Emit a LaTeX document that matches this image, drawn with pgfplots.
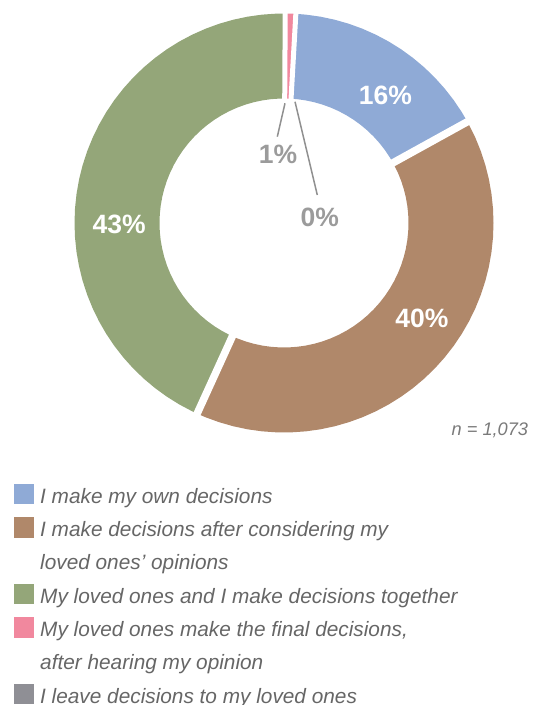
\documentclass[border=0pt]{standalone}
\usepackage{pgfplots}
\pgfplotsset{compat=1.18}
\usepackage{fontspec}
\setmainfont{Liberation Sans}
\definecolor{cblue}{HTML}{8FAAD6}
\definecolor{cbrown}{HTML}{B0886A}
\definecolor{cgreen}{HTML}{94A679}
\definecolor{cpink}{HTML}{F1889E}
\definecolor{cgray}{HTML}{8F8F95}
\definecolor{labgray}{HTML}{9B9B9B}
\definecolor{leader}{HTML}{909090}
\definecolor{legtext}{HTML}{666666}
\definecolor{ntext}{HTML}{7A7A7A}
% shares (%): own 16.07, after considering 39.83, together 43.29, final 0.81, leave 0.00
\begin{document}
\begin{tikzpicture}
\begin{axis}[
  at={(0,0)}, anchor=south west,
  scale only axis, width=547bp, height=705bp,
  xmin=-284, xmax=263, ymin=-482, ymax=223,
  hide axis, clip=false,
  legend cell align=left,
  legend style={at={(axis cs:-269.7,-260.8)}, anchor=north west,
    draw=none, fill=none, inner sep=0pt, outer sep=0pt,
    row sep=13.33bp, column sep=0bp,
    font=\fontsize{20.8bp}{24bp}\selectfont\itshape, text=legtext,
    nodes={inner sep=0pt, text height=19.5bp, text depth=0.5bp},
    /tikz/every odd column/.append style={column sep=6.5bp}},
]
% blue slice: 16.07 %
\addplot[forget plot, data cs=polar, fill=cblue, draw=none] coordinates {
(86.76,209.5) (84,209.5) (80,209.5) (76,209.5) (72,209.5) (68,209.5) (64,209.5) (60,209.5) (56,209.5) (52,209.5) (48,209.5) (44,209.5) (40,209.5) (36,209.5) (32,209.5) (28.9,209.5)
(28.9,124.5) (32,124.5) (36,124.5) (40,124.5) (44,124.5) (48,124.5) (52,124.5) (56,124.5) (60,124.5) (64,124.5) (68,124.5) (72,124.5) (76,124.5) (80,124.5) (84,124.5) (86.76,124.5)
} -- cycle;
% brown slice: 39.83 %
\addplot[forget plot, data cs=polar, fill=cbrown, draw=none] coordinates {
(28.9,209.5) (24,209.5) (20,209.5) (16,209.5) (12,209.5) (8,209.5) (4,209.5) (0,209.5) (-4,209.5) (-8,209.5) (-12,209.5) (-16,209.5) (-20,209.5) (-24,209.5) (-28,209.5) (-32,209.5) (-36,209.5) (-40,209.5) (-44,209.5) (-48,209.5) (-52,209.5) (-56,209.5) (-60,209.5) (-64,209.5) (-68,209.5) (-72,209.5) (-76,209.5) (-80,209.5) (-84,209.5) (-88,209.5) (-92,209.5) (-96,209.5) (-100,209.5) (-104,209.5) (-108,209.5) (-112,209.5) (-114.5,209.5)
(-114.5,124.5) (-112,124.5) (-108,124.5) (-104,124.5) (-100,124.5) (-96,124.5) (-92,124.5) (-88,124.5) (-84,124.5) (-80,124.5) (-76,124.5) (-72,124.5) (-68,124.5) (-64,124.5) (-60,124.5) (-56,124.5) (-52,124.5) (-48,124.5) (-44,124.5) (-40,124.5) (-36,124.5) (-32,124.5) (-28,124.5) (-24,124.5) (-20,124.5) (-16,124.5) (-12,124.5) (-8,124.5) (-4,124.5) (0,124.5) (4,124.5) (8,124.5) (12,124.5) (16,124.5) (20,124.5) (24,124.5) (28.9,124.5)
} -- cycle;
% green slice: 43.29 %
\addplot[forget plot, data cs=polar, fill=cgreen, draw=none] coordinates {
(-114.5,209.5) (-116,209.5) (-120,209.5) (-124,209.5) (-128,209.5) (-132,209.5) (-136,209.5) (-140,209.5) (-144,209.5) (-148,209.5) (-152,209.5) (-156,209.5) (-160,209.5) (-164,209.5) (-168,209.5) (-172,209.5) (-176,209.5) (-180,209.5) (-184,209.5) (-188,209.5) (-192,209.5) (-196,209.5) (-200,209.5) (-204,209.5) (-208,209.5) (-212,209.5) (-216,209.5) (-220,209.5) (-224,209.5) (-228,209.5) (-232,209.5) (-236,209.5) (-240,209.5) (-244,209.5) (-248,209.5) (-252,209.5) (-256,209.5) (-260,209.5) (-264,209.5) (-268,209.5) (-270.33,209.5)
(-270.33,124.5) (-268,124.5) (-264,124.5) (-260,124.5) (-256,124.5) (-252,124.5) (-248,124.5) (-244,124.5) (-240,124.5) (-236,124.5) (-232,124.5) (-228,124.5) (-224,124.5) (-220,124.5) (-216,124.5) (-212,124.5) (-208,124.5) (-204,124.5) (-200,124.5) (-196,124.5) (-192,124.5) (-188,124.5) (-184,124.5) (-180,124.5) (-176,124.5) (-172,124.5) (-168,124.5) (-164,124.5) (-160,124.5) (-156,124.5) (-152,124.5) (-148,124.5) (-144,124.5) (-140,124.5) (-136,124.5) (-132,124.5) (-128,124.5) (-124,124.5) (-120,124.5) (-116,124.5) (-114.5,124.5)
} -- cycle;
% pink slice: 0.81 %
\addplot[forget plot, data cs=polar, fill=cpink, draw=none] coordinates {
(89.67,209.5) (88.2,209.5) (86.76,209.5) (86.76,124.5) (88.2,124.5) (89.67,124.5)
} -- cycle;
% white separators between slices
\addplot[forget plot, data cs=polar, white, line width=7.5bp] coordinates {(28.9,118) (28.9,216)};
\addplot[forget plot, data cs=polar, white, line width=7.5bp] coordinates {(-114.5,118) (-114.5,216)};
\addplot[forget plot, data cs=polar, white, line width=5bp] coordinates {(89.67,118) (89.67,216)};
\addplot[forget plot, data cs=polar, white, line width=5bp] coordinates {(86.76,118) (86.76,216)};
% leader lines for small slices
\addplot[forget plot, leader, line width=1.5bp] coordinates {(1,119.7) (-6.7,86.3)};
\addplot[forget plot, leader, line width=1.5bp] coordinates {(11,121.3) (33.3,28)};
% labels
\node[font=\fontsize{26.5bp}{30bp}\selectfont\bfseries, text=white] at (axis cs:101.5,127.5) {16\%};
\node[font=\fontsize{26.5bp}{30bp}\selectfont\bfseries, text=white] at (axis cs:138,-95.3) {40\%};
\node[font=\fontsize{26.5bp}{30bp}\selectfont\bfseries, text=white] at (axis cs:-164.8,-1.2) {43\%};
\node[font=\fontsize{26.5bp}{30bp}\selectfont\bfseries, text=labgray] at (axis cs:-6,68.5) {1\%};
\node[font=\fontsize{26.5bp}{30bp}\selectfont\bfseries, text=labgray] at (axis cs:35.7,5.5) {0\%};
\node[font=\fontsize{18.2bp}{22bp}\selectfont\itshape, text=ntext, anchor=base east, inner sep=0pt] at (axis cs:244.3,-213) {n = 1,073};
% legend
\addlegendimage{legend image code/.code={\fill[cblue] (0bp,-9.75bp) rectangle (19bp,9.75bp);}}
\addlegendentry{I make my own decisions}
\addlegendimage{legend image code/.code={\fill[cbrown] (0bp,-9.75bp) rectangle (19bp,9.75bp);}}
\addlegendentry{I make decisions after considering my}
\addlegendimage{empty legend}
\addlegendentry{loved ones' opinions}
\addlegendimage{legend image code/.code={\fill[cgreen] (0bp,-9.75bp) rectangle (19bp,9.75bp);}}
\addlegendentry{My loved ones and I make decisions together}
\addlegendimage{legend image code/.code={\fill[cpink] (0bp,-9.75bp) rectangle (19bp,9.75bp);}}
\addlegendentry{My loved ones make the final decisions,}
\addlegendimage{empty legend}
\addlegendentry{after hearing my opinion}
\addlegendimage{legend image code/.code={\fill[cgray] (0bp,-9.75bp) rectangle (19bp,9.75bp);}}
\addlegendentry{I leave decisions to my loved ones}
\coordinate (bl) at (axis cs:-284,-482);
\coordinate (tr) at (axis cs:263,223);
\end{axis}
\pgfresetboundingbox
\path (bl) rectangle (tr);
\end{tikzpicture}
\end{document}
